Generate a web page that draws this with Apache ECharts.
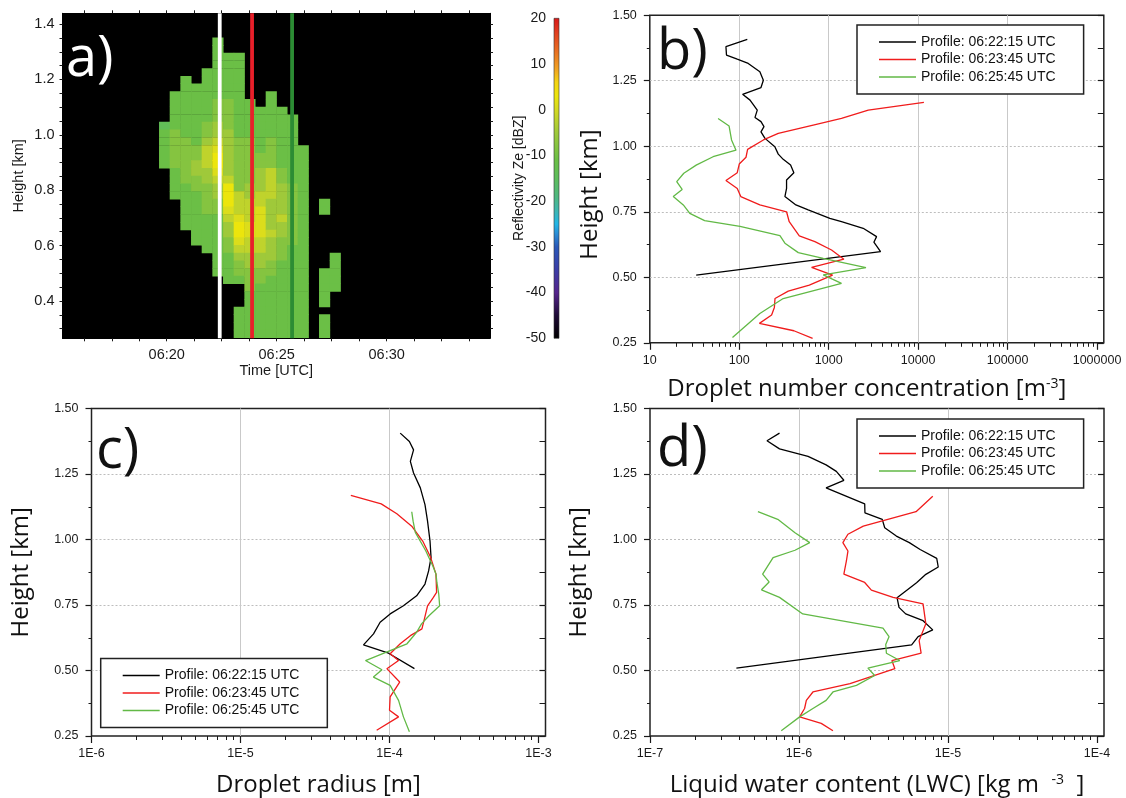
<!DOCTYPE html>
<html>
<head>
<meta charset="utf-8">
<title>Radar reflectivity and droplet profiles</title>
<script src="https://cdn.jsdelivr.net/npm/echarts@6/dist/echarts.min.js"></script>
<style>
html, body { margin: 0; padding: 0; background: #fff; }
#chart { width: 1126px; height: 798px; }
</style>
</head>
<body>
<div id="chart"></div>
<script>
// ---- data ----
var profileNames = ['Profile: 06:22:15 UTC', 'Profile: 06:23:45 UTC', 'Profile: 06:25:45 UTC'];
var profileColors = ['#000000', '#f01c1c', '#62b946'];

// panel a: vertical profile markers (minutes after 06:00)
var profileMarks = [22.41, 23.88, 25.70];
var markColors = ['#ffffff', '#e8202a', '#2c8c34'];

// panel a: radar cells, start time of each column (min after 06:00), bottom of each gate (km)
var cellTimes = [19.650, 20.135, 20.620, 21.105, 21.590, 22.075, 22.560, 23.045, 23.530,
                 24.015, 24.500, 24.985, 25.470, 25.955, 26.440, 26.925, 27.410];
var gateBottoms = [0.268, 0.296, 0.324, 0.351, 0.379, 0.407, 0.435, 0.463, 0.490, 0.518,
                   0.546, 0.574, 0.602, 0.629, 0.657, 0.685, 0.713, 0.741, 0.768, 0.796,
                   0.824, 0.852, 0.880, 0.907, 0.935, 0.963, 0.991, 1.019, 1.046, 1.074,
                   1.102, 1.130, 1.158, 1.185, 1.213, 1.241, 1.269, 1.297, 1.324];
var gateWidth = 0.485, gateDepth = 0.0278;
// reflectivity level of each character (dBZ), '.' = no echo
var zeLevels = {'1': -14, '2': -11, '3': -8, '4': -5, '5': -2, '6': 1, '7': 3};
// one string per column, top gate first
var zeColumns = [
  '...........122222......................',
  '.......22222333332222..................',
  '.....22222222333333222222..............',
  '......222222223344332222222............',
  '....222222233455544333322222...........',
  '2222222233344567765443322222222........',
  '..222222333344444457776544332222.......',
  '..222222222223333333555677654332...2222',
  '........2222233333344555665544333222222',
  '.........222222334445566665544332222222',
  '.......22222233335555444454443322222222',
  '.........222222223344445443332222222222',
  '..........22222222233333333222222222222',
  '..............2222222222222222222222222',
  '.......................................',
  '.....................22.......22222.222',
  '............................22222......'
];

// panel b: droplet number concentration [m-3]
var concH1 = [1.408, 1.380, 1.348, 1.332, 1.316, 1.284, 1.252, 1.224, 1.198, 1.176, 1.138, 1.110, 1.094, 1.075, 1.055, 1.030, 0.998, 0.970, 0.950, 0.928, 0.899, 0.871, 0.839, 0.808, 0.776, 0.757, 0.725, 0.712, 0.687, 0.655, 0.634, 0.598, 0.508];
var concV1 = [123, 71, 72, 95, 126, 170, 186, 175, 109, 132, 159, 150, 175, 189, 175, 194, 250, 273, 310, 375, 408, 338, 338, 324, 430, 590, 1030, 1390, 2430, 3430, 3200, 3800, 33];
var concH2 = [1.167, 1.138, 1.106, 1.081, 1.049, 1.024, 0.988, 0.958, 0.932, 0.899, 0.869, 0.839, 0.808, 0.776, 0.750, 0.712, 0.658, 0.636, 0.604, 0.569, 0.538, 0.508, 0.470, 0.447, 0.419, 0.385, 0.356, 0.324, 0.296, 0.267];
var concV2 = [11600, 2770, 1390, 671, 273, 186, 124, 119, 100, 95, 71, 95, 104, 170, 338, 362, 469, 701, 1076, 1479, 644, 1105, 607, 353, 251, 247, 230, 168, 408, 661];
var concH3 = [1.106, 1.077, 1.024, 0.985, 0.960, 0.928, 0.897, 0.865, 0.835, 0.808, 0.776, 0.744, 0.716, 0.694, 0.659, 0.630, 0.594, 0.572, 0.537, 0.509, 0.477, 0.419, 0.362, 0.270];
var concV3 = [58, 77, 82, 92, 51, 33, 24, 20, 23, 18.3, 23.7, 28, 41, 102, 285, 324, 457, 869, 2610, 869, 1390, 310, 170, 84];

// panel c: droplet radius [m]
var radH1 = [1.406, 1.374, 1.342, 1.298, 1.254, 1.197, 1.133, 1.070, 0.994, 0.931, 0.880, 0.830, 0.785, 0.747, 0.716, 0.684, 0.640, 0.598, 0.566, 0.507];
var radV1 = [1.18e-4, 1.36e-4, 1.45e-4, 1.38e-4, 1.45e-4, 1.61e-4, 1.73e-4, 1.80e-4, 1.87e-4, 1.90e-4, 1.83e-4, 1.73e-4, 1.52e-4, 1.24e-4, 1.01e-4, 8.65e-5, 7.81e-5, 6.69e-5, 9.85e-5, 1.47e-4];
var radH2 = [1.168, 1.136, 1.098, 1.051, 0.994, 0.931, 0.868, 0.798, 0.777, 0.747, 0.700, 0.659, 0.633, 0.602, 0.564, 0.538, 0.507, 0.456, 0.399, 0.348, 0.323, 0.272];
var radV2 = [5.5e-5, 8.8e-5, 1.12e-4, 1.41e-4, 1.67e-4, 1.89e-4, 2.05e-4, 2.07e-4, 1.96e-4, 1.80e-4, 1.72e-4, 1.65e-4, 1.38e-4, 1.18e-4, 1.01e-4, 1.15e-4, 9.6e-5, 1.17e-4, 1.01e-4, 1.0e-4, 1.15e-4, 8.2e-5];
var radH3 = [1.106, 1.070, 1.027, 0.957, 0.900, 0.868, 0.836, 0.792, 0.747, 0.709, 0.678, 0.646, 0.602, 0.576, 0.538, 0.503, 0.475, 0.443, 0.386, 0.323, 0.266];
var radV3 = [1.41e-4, 1.44e-4, 1.49e-4, 1.75e-4, 1.95e-4, 2.05e-4, 2.08e-4, 2.14e-4, 2.17e-4, 1.84e-4, 1.64e-4, 1.52e-4, 1.31e-4, 1.01e-4, 6.9e-5, 8.9e-5, 7.8e-5, 1.01e-4, 1.15e-4, 1.24e-4, 1.36e-4];

// panel d: liquid water content [kg m-3]
var lwcH1 = [1.406, 1.377, 1.346, 1.317, 1.285, 1.260, 1.226, 1.197, 1.136, 1.102, 1.077, 1.045, 1.013, 0.988, 0.962, 0.928, 0.895, 0.867, 0.835, 0.778, 0.741, 0.716, 0.690, 0.655, 0.629, 0.598, 0.509];
var lwcV1 = [7.4e-7, 6.1e-7, 7.4e-7, 1.15e-6, 1.52e-6, 1.78e-6, 2.0e-6, 1.52e-6, 2.76e-6, 2.77e-6, 3.62e-6, 3.76e-6, 4.5e-6, 5.5e-6, 6.5e-6, 8.4e-6, 8.6e-6, 7.1e-6, 6.15e-6, 4.55e-6, 4.69e-6, 5.2e-6, 6.8e-6, 7.9e-6, 6.3e-6, 5.7e-6, 3.8e-7];
var lwcH2 = [1.165, 1.106, 1.051, 1.020, 0.988, 0.956, 0.918, 0.868, 0.836, 0.807, 0.779, 0.754, 0.678, 0.614, 0.566, 0.538, 0.507, 0.450, 0.418, 0.386, 0.355, 0.323, 0.298, 0.270];
var lwcV2 = [7.9e-6, 6.1e-6, 2.7e-6, 2.13e-6, 1.97e-6, 2.13e-6, 2.08e-6, 2.0e-6, 2.76e-6, 3.06e-6, 4.28e-6, 6.8e-6, 7.1e-6, 6.4e-6, 6.6e-6, 4.2e-6, 4.4e-6, 2.2e-6, 1.24e-6, 1.12e-6, 1.09e-6, 1.01e-6, 1.41e-6, 1.69e-6];
var lwcH3 = [1.106, 1.077, 1.026, 0.988, 0.959, 0.931, 0.868, 0.838, 0.808, 0.779, 0.716, 0.662, 0.629, 0.599, 0.566, 0.538, 0.509, 0.481, 0.443, 0.418, 0.386, 0.355, 0.323, 0.270];
var lwcV3 = [5.3e-7, 7.2e-7, 9.4e-7, 1.18e-6, 9.4e-7, 6.7e-7, 5.7e-7, 6.3e-7, 5.6e-7, 7.4e-7, 1.06e-6, 3.66e-6, 4.02e-6, 3.82e-6, 3.86e-6, 4.74e-6, 2.9e-6, 3.22e-6, 2.43e-6, 1.69e-6, 1.52e-6, 1.24e-6, 1.01e-6, 7.6e-7];

// colour table of the reflectivity scale
var zeMin = -50, zeMax = 20;
var zeStops = [[-50, '#000000'], [-45, '#1e0b36'], [-40, '#55248c'], [-35, '#3b3da6'], [-30, '#2a58b8'],
               [-27, '#2a8fd6'], [-25, '#22b6e6'], [-22, '#3fb6b0'], [-19, '#4fb880'], [-15, '#5dbd5c'],
               [-11, '#6bbf46'], [-5, '#9fc93a'], [0, '#d4d922'], [3, '#ece50c'], [6, '#f4d412'],
               [9, '#f0a022'], [13, '#e86c22'], [17, '#e03c20'], [20, '#d81818']];

function hexRgb(h) {
    return [parseInt(h.substr(1, 2), 16), parseInt(h.substr(3, 2), 16), parseInt(h.substr(5, 2), 16)];
}
function zeColor(v) {
    for (var i = 1; i < zeStops.length; i++) {
        if (v <= zeStops[i][0]) {
            var a = hexRgb(zeStops[i - 1][1]), b = hexRgb(zeStops[i][1]);
            var f = (v - zeStops[i - 1][0]) / (zeStops[i][0] - zeStops[i - 1][0]);
            return 'rgb(' + Math.round(a[0] + (b[0] - a[0]) * f) + ',' + Math.round(a[1] + (b[1] - a[1]) * f) + ',' + Math.round(a[2] + (b[2] - a[2]) * f) + ')';
        }
    }
    return zeStops[zeStops.length - 1][1];
}

var cells = [];
zeColumns.forEach(function (col, c) {
    for (var j = 0; j < col.length; j++) {
        var ch = col.charAt(j);
        if (ch !== '.') {
            cells.push([cellTimes[c], gateBottoms[col.length - 1 - j], zeLevels[ch]]);
        }
    }
});

function zip(hs, vs) {
    return hs.map(function (h, i) { return [vs[i], h]; });
}

// ---- axes ----
var tickFont = '"Liberation Sans", Arial, sans-serif';
var titleFont = '"Open Sans", sans-serif';
var ink = '#1a1a1a';
var aMin = 15.26, aMax = 34.70, aLow = 0.265, aHigh = 1.439;

function steps(from, to, step) {
    var out = [];
    for (var v = from; v <= to + 1e-9; v += step) out.push(+v.toFixed(4));
    return out;
}
function logMinors(lo, hi) {
    var out = [];
    for (var e = lo; e < hi; e++) {
        for (var k = 2; k <= 9; k++) out.push(k * Math.pow(10, e));
    }
    return out;
}
function decades(lo, hi) {
    var out = [];
    for (var e = lo; e <= hi; e++) out.push(Math.pow(10, e));
    return out;
}
function sciLabel(v) {
    return '1E' + Math.round(Math.log(v) / Math.LN10);
}

var aTicksX = steps(16.25, 33.75, 1.25);
var aTicksY = steps(0.3, 1.4, 0.05);

var xAxes = [
    { // a bottom
        type: 'value', gridIndex: 0, position: 'bottom', min: aMin, max: aMax,
        axisLine: { onZero: false, lineStyle: { color: '#000' } },
        axisTick: { customValues: aTicksX, length: 3, lineStyle: { color: ink } },
        axisLabel: {
            customValues: [20, 25, 30], margin: 9, fontSize: 14.5, fontFamily: tickFont, color: ink,
            formatter: function (v) { return '06:' + v; }
        },
        splitLine: { show: false },
        name: 'Time [UTC]', nameLocation: 'middle', nameGap: 25,
        nameTextStyle: { fontSize: 14.5, fontFamily: tickFont, color: ink }
    },
    { // a top
        type: 'value', gridIndex: 0, position: 'top', min: aMin, max: aMax,
        axisLine: { onZero: false, lineStyle: { color: '#000' } },
        axisTick: { customValues: aTicksX, length: 3, lineStyle: { color: ink } },
        axisLabel: { show: false }, splitLine: { show: false }
    },
    { // colour bar
        type: 'value', gridIndex: 1, min: 0, max: 1, show: false
    }
];
var yAxes = [
    {
        type: 'value', gridIndex: 0, position: 'left', min: aLow, max: aHigh,
        axisLine: { onZero: false, lineStyle: { color: '#000' } },
        axisTick: { customValues: aTicksY, length: 3, lineStyle: { color: ink } },
        axisLabel: {
            customValues: [0.4, 0.6, 0.8, 1.0, 1.2, 1.4], margin: 8, fontSize: 14.5, fontFamily: tickFont, color: ink,
            formatter: function (v) { return v.toFixed(1); }
        },
        splitLine: { show: false },
        name: 'Height [km]', nameLocation: 'middle', nameGap: 36,
        nameTextStyle: { fontSize: 14.5, fontFamily: tickFont, color: ink }
    },
    {
        type: 'value', gridIndex: 0, position: 'right', min: aLow, max: aHigh,
        axisLine: { onZero: false, lineStyle: { color: '#000' } },
        axisTick: { customValues: aTicksY, length: 3, lineStyle: { color: ink } },
        axisLabel: { show: false }, splitLine: { show: false }
    },
    {
        type: 'value', gridIndex: 1, position: 'left', min: zeMin, max: zeMax, interval: 10,
        axisLine: { show: false, onZero: false }, axisTick: { show: false },
        axisLabel: { margin: 8, fontSize: 14, fontFamily: tickFont, color: ink },
        splitLine: { show: false },
        name: 'Reflectivity Ze [dBZ]', nameLocation: 'middle', nameGap: 28, nameMoveOverlap: false,
        nameTextStyle: { fontSize: 14, fontFamily: tickFont, color: ink }
    }
];

function titleStyle(pad) {
    return {
        fontSize: 24, fontFamily: titleFont, color: '#111', padding: pad,
        rich: { sup: { fontSize: 14, fontFamily: titleFont, color: '#111', verticalAlign: 'top' } }
    };
}

function logPanel(gi, lo, hi, max, labelFmt, xName, xGap, xPad, yGap, yPad) {
    xAxes.push({
        type: 'log', gridIndex: gi, position: 'bottom', min: Math.pow(10, lo), max: max,
        axisLine: { show: false, onZero: false },
        axisTick: { customValues: decades(lo, hi), length: 7, lineStyle: { color: ink, width: 1.2 } },
        axisLabel: { customValues: decades(lo, hi), formatter: labelFmt, margin: 11, fontSize: 12.5, fontFamily: tickFont, color: ink },
        splitLine: { show: true, showMinLine: false, showMaxLine: false, lineStyle: { color: '#c9c9c9', width: 1 } },
        name: xName, nameLocation: 'middle', nameGap: xGap, nameTextStyle: titleStyle(xPad)
    });
    xAxes.push({
        type: 'log', gridIndex: gi, position: 'bottom', min: Math.pow(10, lo), max: max,
        axisLine: { show: false, onZero: false },
        axisTick: { customValues: logMinors(lo, hi), length: 4, lineStyle: { color: ink } },
        axisLabel: { show: false }, splitLine: { show: false }
    });
    yAxes.push({
        type: 'value', gridIndex: gi, position: 'left', min: 0.25, max: 1.5, interval: 0.25,
        axisLine: { show: false, onZero: false },
        axisTick: { length: 6, lineStyle: { color: ink, width: 1.2 } },
        minorTick: { show: true, splitNumber: 2, length: 3, lineStyle: { color: ink } },
        axisLabel: { margin: 13, fontSize: 12.5, fontFamily: tickFont, color: ink, formatter: function (v) { return v.toFixed(2); } },
        splitLine: { show: true, showMinLine: false, showMaxLine: false, lineStyle: { color: '#bdbdbd', type: [2, 2], width: 1 } },
        name: 'Height [km]', nameLocation: 'middle', nameGap: yGap,
        nameTextStyle: { fontSize: 24, fontFamily: titleFont, color: '#111', padding: yPad }
    });
    yAxes.push({
        type: 'value', gridIndex: gi, position: 'right', min: 0.25, max: 1.5, interval: 0.25,
        axisLine: { show: false, onZero: false },
        axisTick: { inside: true, length: 6, lineStyle: { color: ink, width: 1.2 } },
        minorTick: { show: true, splitNumber: 2, length: 6, lineStyle: { color: ink } },
        axisLabel: { show: false }, splitLine: { show: false }
    });
}

logPanel(2, 1, 6, 1.19e6, function (v) { return String(Math.round(v)); },
    'Droplet number concentration [m{sup|-3}]', 34, [0, 20, 0, 0], 48, [0, 31, 0, 0]);
logPanel(3, -6, -3, 1.114e-3, sciLabel, 'Droplet radius [m]', 37, 0, 58, 0);
logPanel(4, -7, -4, 1.114e-4, sciLabel, 'Liquid water content (LWC) [kg m  {sup|-3}  ]', 37, 0, 59, 0);

// ---- series ----
var series = [
    {
        type: 'custom', name: 'Ze', xAxisIndex: 0, yAxisIndex: 0, clip: true,
        encode: { x: 0, y: 1 },
        data: cells,
        renderItem: function (params, api) {
            var t = api.value(0), h = api.value(1);
            var p0 = api.coord([t, h + gateDepth]);
            var p1 = api.coord([t + gateWidth, h]);
            return {
                type: 'rect',
                shape: { x: p0[0], y: p0[1], width: p1[0] - p0[0] + 0.5, height: p1[1] - p0[1] + 0.5 },
                style: { fill: zeColor(api.value(2)) }
            };
        }
    },
    {
        type: 'custom', name: 'colour bar', xAxisIndex: 2, yAxisIndex: 2,
        data: [[0, zeMin]],
        renderItem: function (params, api) {
            var top = api.coord([0, zeMax]), bot = api.coord([1, zeMin]);
            var stops = zeStops.map(function (s) {
                return { offset: (s[0] - zeMin) / (zeMax - zeMin), color: s[1] };
            });
            return {
                type: 'rect',
                shape: { x: top[0], y: top[1], width: bot[0] - top[0], height: bot[1] - top[1] },
                style: { fill: new echarts.graphic.LinearGradient(0, 1, 0, 0, stops), stroke: '#333', lineWidth: 0.6 }
            };
        }
    }
];

profileMarks.forEach(function (t, i) {
    series.push({
        type: 'line', xAxisIndex: 0, yAxisIndex: 0, z: 4, symbol: 'none', silent: true,
        data: [[t, aLow], [t, aHigh]],
        lineStyle: { color: markColors[i], width: 3.8 }
    });
});

var panels = [
    { axis: 3, h: [concH1, concH2, concH3], v: [concV1, concV2, concV3] },
    { axis: 5, h: [radH1, radH2, radH3], v: [radV1, radV2, radV3] },
    { axis: 7, h: [lwcH1, lwcH2, lwcH3], v: [lwcV1, lwcV2, lwcV3] }
];
panels.forEach(function (p) {
    for (var k = 0; k < 3; k++) {
        series.push({
            type: 'line', name: profileNames[k], xAxisIndex: p.axis, yAxisIndex: p.axis,
            symbol: 'none', z: 3,
            data: zip(p.h[k], p.v[k]),
            lineStyle: { color: profileColors[k], width: 1.3 },
            itemStyle: { color: profileColors[k] }
        });
    }
});

function legendAt(left, top) {
    return {
        data: profileNames, orient: 'vertical', left: left, top: top,
        padding: [10, 28, 10, 22], itemGap: 3.5, itemWidth: 37, itemHeight: 1.4, icon: 'rect',
        borderColor: '#222', borderWidth: 1.5, backgroundColor: '#fff', selectedMode: false,
        textStyle: { fontSize: 14, fontFamily: tickFont, color: '#111' }
    };
}

var panelLabel = function (txt, x, y, color) {
    return {
        type: 'text', x: x, y: y, z: 100,
        style: { text: txt, fill: color, font: '56px "Open Sans", sans-serif', textVerticalAlign: 'middle' }
    };
};

var chart = echarts.init(document.getElementById('chart'), null, { renderer: 'canvas' });
chart.setOption({
    animation: false,
    backgroundColor: '#ffffff',
    grid: [
        { left: 62.5, top: 13.3, width: 427.5, height: 325, show: true, backgroundColor: '#000', borderWidth: 0 },
        { left: 554, top: 18.3, width: 5, height: 320 },
        { left: 649.8, top: 15.2, width: 454, height: 327.6, show: true, borderColor: '#222', borderWidth: 1.5 },
        { left: 91.5, top: 408.5, width: 454, height: 329, show: true, borderColor: '#222', borderWidth: 1.5 },
        { left: 650, top: 408.5, width: 454, height: 329, show: true, borderColor: '#222', borderWidth: 1.5 }
    ],
    xAxis: xAxes,
    yAxis: yAxes,
    legend: [legendAt(857, 25), legendAt(100.7, 658.5), legendAt(857, 419)],
    series: series,
    graphic: [
        panelLabel('a)', 66, 60, '#ffffff'),
        panelLabel('b)', 657, 53, '#111'),
        panelLabel('c)', 96, 452, '#111'),
        panelLabel('d)', 657, 450, '#111')
    ]
});
</script>
</body>
</html>
